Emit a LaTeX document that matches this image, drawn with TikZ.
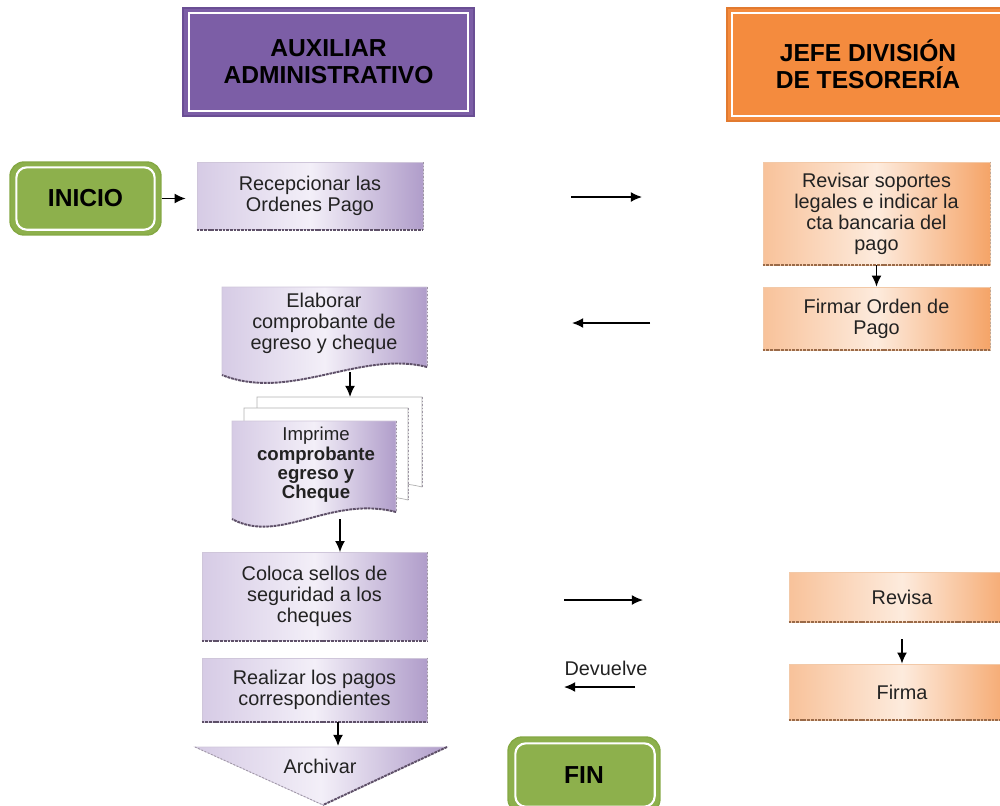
\documentclass[tikz,border=0pt]{standalone}
\usepackage{fontspec}
\setmainfont{Liberation Sans}
\usetikzlibrary{arrows.meta}

\definecolor{txt}{HTML}{222222}
\definecolor{hdrP}{HTML}{7C5EA6}
\definecolor{hdrPedge}{HTML}{6A4E94}
\definecolor{hdrO}{HTML}{F48B3E}
\definecolor{hdrOedge}{HTML}{E27A2F}
\definecolor{grn}{HTML}{8DB04C}
\definecolor{grnEdge}{HTML}{84A843}
\definecolor{pA}{HTML}{D6CBE5}
\definecolor{pB}{HTML}{B09DCA}
\definecolor{pC}{HTML}{F3EFF8}
\definecolor{pEdge}{HTML}{CFC6DA}
\definecolor{pDark}{HTML}{5E5068}
\definecolor{oA}{HTML}{F8C29A}
\definecolor{oB}{HTML}{F5A468}
\definecolor{oC}{HTML}{FDEBDD}
\definecolor{oEdge}{HTML}{F2C9A8}
\definecolor{oDark}{HTML}{9A6A48}

\newcommand{\boxfont}{\fontsize{11.3}{12}\selectfont}
\newcommand{\hdrfont}{\fontsize{14}{15.3}\selectfont\bfseries}

\begin{document}
\begin{tikzpicture}[x=0.02cm, y=-0.02cm,
  every node/.style={text=txt},
  procP/.style={draw=pEdge, line width=0.4pt, left color=pA, right color=pB,
    middle color=pC, inner sep=0pt, align=center, font=\boxfont},
  procO/.style={draw=oEdge, line width=0.4pt, left color=oA, right color=oB,
    middle color=oC, inner sep=0pt, align=center, font=\boxfont},
  shadeP/.style={draw=pEdge, line width=0.4pt, left color=pA, right color=pB,
    middle color=pC},
  pageback/.style={draw=black!30, line width=0.4pt, fill=white},
  botP/.style={draw=pDark, line width=1.1pt, dash pattern=on 1.6pt off 0.5pt},
  botO/.style={draw=oDark, line width=1.1pt, dash pattern=on 1.6pt off 0.5pt},
  sideP/.style={draw=pDark!60, line width=0.5pt, dash pattern=on 1pt off 1pt},
  sideO/.style={draw=oDark!60, line width=0.5pt, dash pattern=on 1pt off 1pt},
  header/.style={inner sep=0pt, align=center, font=\hdrfont, line width=1pt, text=black},
  term/.style={fill=grn, draw=grnEdge, line width=0.8pt, rounded corners=8pt,
    inner sep=0pt, text=black, font=\fontsize{14}{16}\selectfont\bfseries},
  inner/.style={draw=white, line width=1.2pt},
  arr/.style={-{Latex[length=6.3pt,width=5.6pt]}, line width=0.8pt, draw=black},
  lbl/.style={font=\boxfont, inner sep=0pt}
]
\useasboundingbox (0,0) rectangle (1000,805);

% ---------- lane headers ----------
\node[header, fill=hdrP, draw=hdrPedge, minimum width=5.82cm, minimum height=2.16cm]
  (hA) at (328.5,62) {AUXILIAR\\ADMINISTRATIVO};
\draw[inner] ([shift={(7,6)}]hA.north west) rectangle ([shift={(-7,-6)}]hA.south east);

\node[header, fill=hdrO, draw=hdrOedge, minimum width=5.64cm, minimum height=2.26cm]
  (hJ) at (868,64.5) {JEFE DIVISIÓN\\DE TESORERÍA};
\draw[inner] ([shift={(6,6)}]hJ.north west) rectangle ([shift={(-6,-6)}]hJ.south east);

% ---------- start ----------
\node[term, minimum width=3.02cm, minimum height=1.46cm] (ini) at (85.5,198.5) {INICIO};
\draw[inner, rounded corners=6pt] ([shift={(7,6)}]ini.north west) rectangle ([shift={(-7,-6)}]ini.south east);

% ---------- left lane ----------
\node[procP, minimum width=4.52cm, minimum height=1.34cm] (rec) at (310,196)
  {Recepcionar las\\Ordenes Pago};
\draw[botP] (rec.south west) -- (rec.south east);
\draw[sideP] (rec.north east) -- (rec.south east);

% document: Elaborar comprobante
\path[shadeP] (222,287) -- (427,287) -- (427,367)
  .. controls (360,350) and (290,402) .. (222,375) -- cycle;
\draw[botP] (427,367) .. controls (360,350) and (290,402) .. (222,375);
\draw[sideP] (427,287) -- (427,367);
\node[lbl, align=center] (ela) at (324,323) {Elaborar\\comprobante de\\egreso y cheque};
\coordinate (elaB) at (350,372);

% multi-document: Imprime comprobante
\path[pageback] (257,397) -- (422,397) -- (422,487)
  .. controls (355,470) and (305,520) .. (257,494) -- cycle;
\draw[sideP] (422,397) -- (422,487);
\path[pageback] (244,408) -- (408,408) -- (408,500)
  .. controls (340,483) and (290,533) .. (244,507) -- cycle;
\draw[sideP] (408,408) -- (408,500);
\path[shadeP] (232,421) -- (396,421) -- (396,512)
  .. controls (330,495) and (280,545) .. (232,519) -- cycle;
\draw[botP] (396,512) .. controls (330,495) and (280,545) .. (232,519);
\draw[sideP] (396,421) -- (396,512);
\node[lbl, align=center, font=\fontsize{10.6}{11}\selectfont] (imp) at (316,465)
  {Imprime\\\textbf{comprobante}\\\textbf{egreso y}\\\textbf{Cheque}};
\coordinate (impT) at (350,397);
\coordinate (impB) at (340,519);

\node[procP, minimum width=4.5cm, minimum height=1.76cm] (col) at (314.5,596.5)
  {Coloca sellos de\\seguridad a los\\cheques};
\draw[botP] (col.south west) -- (col.south east);
\draw[sideP] (col.north east) -- (col.south east);

\node[procP, minimum width=4.5cm, minimum height=1.28cm] (rea) at (314.5,690)
  {Realizar los pagos\\correspondientes};
\draw[botP] (rea.south west) -- (rea.south east);
\draw[sideP] (rea.north east) -- (rea.south east);

% off-page connector: Archivar
\path[shadeP] (195,747) -- (447,747) -- (323,805) -- cycle;
\draw[botP] (447,747) -- (323,805);
\draw[sideP] (195,747) -- (323,805);
\node[lbl] (arc) at (320,766) {Archivar};
\coordinate (arcT) at (338,746);

% ---------- right lane ----------
\node[procO, minimum width=4.54cm, minimum height=2.06cm] (rev) at (876.5,213.5)
  {Revisar soportes\\legales e indicar la\\cta bancaria del\\pago};
\draw[botO] (rev.south west) -- (rev.south east);
\draw[sideO] (rev.north east) -- (rev.south east);

\node[procO, minimum width=4.54cm, minimum height=1.26cm] (fir) at (876.5,318.5)
  {Firmar Orden de\\Pago};
\draw[botO] (fir.south west) -- (fir.south east);
\draw[sideO] (fir.north east) -- (fir.south east);

\node[procO, minimum width=4.52cm, minimum height=1.0cm] (rvs) at (902,597) {Revisa};
\draw[botO] (rvs.south west) -- (rvs.south east);

\node[procO, minimum width=4.52cm, minimum height=1.12cm] (frm) at (902,692) {Firma};
\draw[botO] (frm.south west) -- (frm.south east);

% ---------- end ----------
\node[term, minimum width=3.04cm, minimum height=1.52cm] (fin) at (584,775) {FIN};
\draw[inner, rounded corners=6pt] ([shift={(8,7)}]fin.north west) rectangle ([shift={(-6,-7)}]fin.south east);

% ---------- connectors ----------
\draw[arr] (ini.east) -- ++(24,0);
\draw[arr] (rev.south) -- (fir.north);
\draw[arr] (elaB) -- (impT);
\draw[arr] (impB) -- (impB |- col.north);
\draw[arr] (arcT |- rea.south) -- (arcT);
\draw[arr, shorten <=9.5pt] (rvs.south) -- (frm.north);

% hand-over arrows between the lanes
\coordinate (h1s) at (571,197);  \coordinate (h1e) at (642,197);
\coordinate (h2s) at (650,323);  \coordinate (h2e) at (572,323);
\coordinate (h3s) at (564,600);  \coordinate (h3e) at (643,600);
\coordinate (h4s) at (635,687);  \coordinate (h4e) at (564,687);
\draw[arr] (h1s) -- (h1e);
\draw[arr] (h2s) -- (h2e);
\draw[arr] (h3s) -- (h3e);
\draw[arr] (h4s) -- (h4e);
\node[lbl] (dev) at (606,668) {Devuelve};
\end{tikzpicture}
\end{document}
